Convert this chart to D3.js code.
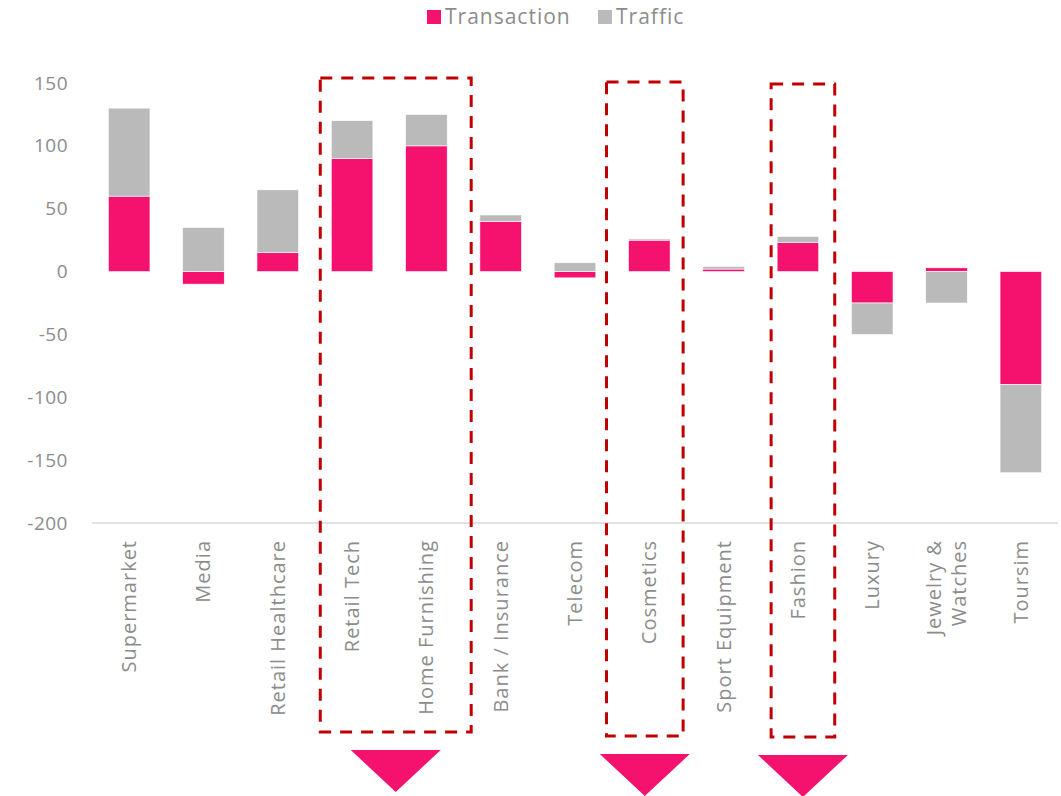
<!DOCTYPE html>
<html>
<head>
<meta charset="utf-8">
<script src="https://cdn.jsdelivr.net/npm/d3@7"></script>
<style>
  body { margin: 0; background: #fff; }
  svg text { font-family: "Open Sans", sans-serif; fill: #8c8c8c; }
</style>
</head>
<body>
<div id="chart"></div>
<script>
// donnees
const categories = ["Supermarket", "Media", "Retail Healthcare", "Retail Tech", "Home Furnishing",
    "Bank / Insurance", "Telecom", "Cosmetics", "Sport Equipment", "Fashion", "Luxury",
    "Jewelry & Watches", "Toursim"];
const transaction = [60, -10, 15, 90, 100, 40, -5, 25, 2, 23, -25, 3, -90];
const traffic = [70, 35, 50, 30, 25, 5, 7, 1, 2, 5, -25, -25, -70];
const yTicks = [-200, -150, -100, -50, 0, 50, 100, 150];
const seriesNames = ["Transaction", "Traffic"];
const colors = ["#f5126f", "#bababa"];
// groupes encadres en pointilles
const highlights = [["Retail Tech", "Home Furnishing"], ["Cosmetics"], ["Fashion"]];

const width = 1061, height = 796;
const margin = { top: 83, right: 3, bottom: 273, left: 92 };

const svg = d3.select("#chart").append("svg")
    .attr("width", width)
    .attr("height", height);

const rows = categories.map((c, i) => ({ cat: c, Transaction: transaction[i], Traffic: traffic[i] }));

const x = d3.scaleBand()
    .domain(categories)
    .range([margin.left, width - margin.right])
    .paddingInner(0.44)
    .paddingOuter(0.22);

const y = d3.scaleLinear()
    .domain([-200, 150])
    .range([height - margin.bottom, margin.top]);

// axe Y (sans ligne)
const yAxis = svg.append("g")
    .attr("transform", `translate(${margin.left},0)`)
    .call(d3.axisLeft(y).tickValues(yTicks).tickSize(0).tickPadding(24).tickFormat(d => String(d)));
yAxis.select(".domain").remove();
yAxis.selectAll("text").style("font-size", "19px").style("letter-spacing", "0.5px");

// ligne de base en bas
svg.append("line")
    .attr("x1", margin.left)
    .attr("x2", width - margin.right)
    .attr("y1", y(-200))
    .attr("y2", y(-200))
    .attr("stroke", "#d9d9d9")
    .attr("stroke-width", 1.5);

// barres empilees (positif / negatif separes)
const series = d3.stack().keys(seriesNames).offset(d3.stackOffsetDiverging)(rows);

svg.append("g")
    .selectAll("g")
    .data(series)
    .join("g")
    .attr("fill", (d, i) => colors[i])
    .selectAll("rect")
    .data(d => d)
    .join("rect")
    .attr("x", d => x(d.data.cat))
    .attr("width", x.bandwidth())
    .attr("y", d => y(Math.max(d[0], d[1])))
    .attr("height", d => Math.abs(y(d[0]) - y(d[1])))
    .attr("stroke", "#fff")
    .attr("stroke-width", 0.6);

// etiquettes des categories, verticales
const labelTop = y(-200) + 17;
const labels = svg.append("g")
    .selectAll("text")
    .data(categories)
    .join("text")
    .attr("transform", d => `translate(${x(d) + x.bandwidth() / 2},${labelTop}) rotate(-90)`)
    .attr("text-anchor", "end")
    .style("font-size", "20px")
    .style("letter-spacing", "1px");

labels.each(function(d) {
    const t = d3.select(this);
    const lines = d === "Jewelry & Watches" ? ["Jewelry &", "Watches"] : [d];
    lines.forEach((l, i) => {
        t.append("tspan")
            .attr("x", 0)
            .attr("dy", i === 0 ? (lines.length > 1 ? "-0.3em" : "0.35em") : "1.25em")
            .text(l);
    });
});

// cadres en pointilles et fleches
const boxes = [
    { cats: highlights[0], left: 11, right: 24, top: 78, bottom: 732 },
    { cats: highlights[1], left: 22, right: 13, top: 82, bottom: 736 },
    { cats: highlights[2], left: 6, right: 16, top: 84, bottom: 737 }
];

boxes.forEach(b => {
    const x0 = x(b.cats[0]) - b.left;
    const x1 = x(b.cats[b.cats.length - 1]) + x.bandwidth() + b.right;
    svg.append("rect")
        .attr("x", x0)
        .attr("y", b.top)
        .attr("width", x1 - x0)
        .attr("height", b.bottom - b.top)
        .attr("fill", "none")
        .attr("stroke", "#c00000")
        .attr("stroke-width", 3)
        .attr("stroke-dasharray", "12,9");

    const cx = (x0 + x1) / 2;
    const ty = b.bottom + 18;
    svg.append("path")
        .attr("d", `M${cx - 45},${ty} L${cx + 45},${ty} L${cx},${ty + 42} Z`)
        .attr("fill", colors[0]);
});

// legende
const legend = svg.append("g").attr("transform", "translate(427,10)");
const items = legend.selectAll("g")
    .data(seriesNames)
    .join("g")
    .attr("transform", (d, i) => `translate(${i === 0 ? 0 : 171},0)`);
items.append("rect")
    .attr("width", 14)
    .attr("height", 14)
    .attr("fill", (d, i) => colors[i]);
items.append("text")
    .attr("x", 18)
    .attr("y", 7)
    .attr("dy", "0.35em")
    .style("font-size", "21px")
    .style("letter-spacing", "1px")
    .text(d => d);
</script>
</body>
</html>
